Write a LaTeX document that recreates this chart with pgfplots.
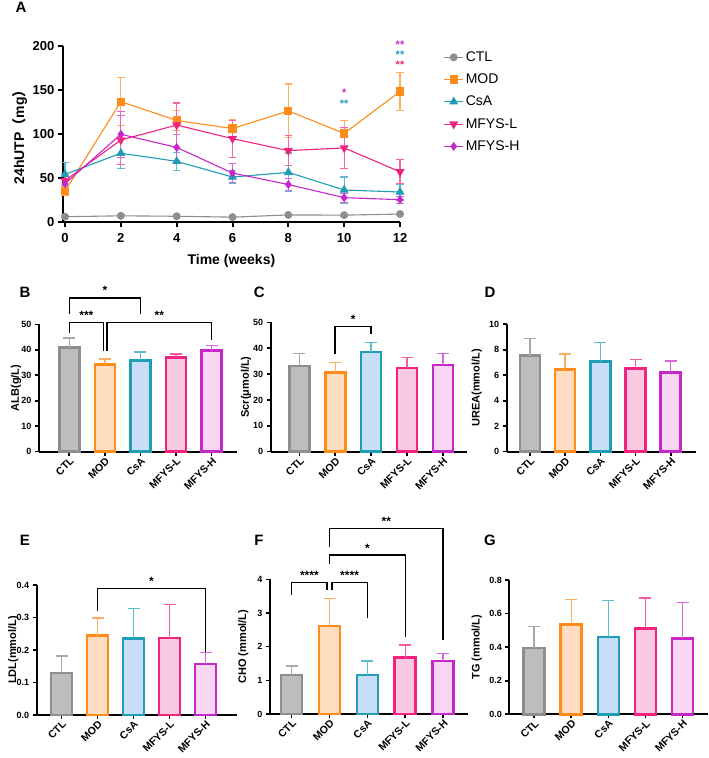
\documentclass[border=0pt]{standalone}
\usepackage{pgfplots}
\pgfplotsset{compat=1.18}
\usepackage{fontspec}
\setmainfont{Liberation Sans}
\newfontfamily\cjk{Noto Sans CJK SC}
\newcommand\fs[1]{\fontsize{#1}{#1}\selectfont}

% line colours (panel A) and bar colours (panels B-G)
\definecolor{ctl}{HTML}{8E8E8E}
\definecolor{mod}{HTML}{FF8C1A}
\definecolor{csa}{HTML}{1E9DB5}
\definecolor{mfl}{HTML}{F2237F}
\definecolor{mfh}{HTML}{C527C9}
\definecolor{ctlE}{HTML}{A8A8A8}
\definecolor{modE}{HTML}{F9AE62}
\definecolor{csaE}{HTML}{5CBDD0}
\definecolor{mflE}{HTML}{F45A9F}
\definecolor{mfhE}{HTML}{D766DA}
\definecolor{ctlF}{HTML}{BDBDBD}
\definecolor{modF}{HTML}{FEDDC0}
\definecolor{csaF}{HTML}{C8DDF7}
\definecolor{mflF}{HTML}{F9C8E1}
\definecolor{mfhF}{HTML}{FAD6F5}

\tikzset{
  brk/.style={black, line width=1.5pt},
  star/.style={anchor=base, yshift=3pt, font=\bfseries\fs{12}},
}

\pgfplotsset{
  linepanel/.style={
    anchor=south west, scale only axis, clip=false,
    axis lines*=left, axis line style={line width=2.4pt, black},
    tick align=outside, major tick length=5pt, tick style={line width=2pt, black},
    ticklabel style={font=\bfseries\fs{13}},
    xticklabel style={yshift=-3pt},
    /pgf/number format/assume math mode=true,
  },
  series/.style n args={4}{color=#1, line width=1.1pt, mark=#2, mark size=#3,
    mark options={solid, fill=#1, #4},
    error bars/.cd, y dir=both, y explicit,
    error bar style={line width=1.1pt, color=#1!70!white},
    error mark options={rotate=90, mark size=3.7pt, line width=1.1pt, color=#1!70!white}},
  barpanel/.style={
    anchor=south west, scale only axis, clip=false,
    axis lines*=left, axis line style={line width=1.9pt, black},
    ymin=0, xtick={0,1,2,3,4}, xticklabels={CTL,MOD,CsA,MFYS-L,MFYS-H},
    tick align=outside, major tick length=4pt, tick style={line width=1.6pt, black},
    xticklabel style={rotate=45, anchor=north east, font=\bfseries\fs{10.5}, inner sep=0.5pt},
    yticklabel style={font=\bfseries\fs{9}},
    /pgf/number format/assume math mode=true,
    ylabel style={font=\bfseries\fs{11}},
    ybar,
  },
  grp/.style n args={3}{fill=#1, draw=#2, line width=2.6pt, bar shift=0pt,
    error bars/.cd, y dir=plus, y explicit,
    error bar style={line width=1.4pt, color=#3},
    error mark options={rotate=90, mark size=6pt, line width=1.4pt, color=#3}},
}

\begin{document}
\begin{tikzpicture}
\path[use as bounding box] (0pt,0pt) rectangle (709pt,758pt);

% ---------------- A: 24 h urinary protein over time ----------------
\begin{axis}[linepanel,
  at={(62.8pt,536pt)}, width=337.2pt, height=176.3pt,
  xmin=-0.08, xmax=12, ymin=0, ymax=200,
  xtick={0,2,...,12}, ytick={0,50,...,200},
  xlabel={Time (weeks)},
  xlabel style={font=\bfseries\fs{14}, at={(axis description cs:0.5,0)}, yshift=-39pt, anchor=center},
  ylabel={24hUTP{\cjk （}mg{\cjk ）}},
  ylabel style={font=\bfseries\fs{14}, at={(axis description cs:-0.128,0.5)}, anchor=center},
  legend cell align=left,
  legend image code/.code={\draw[mark repeat=2,mark phase=2] plot coordinates {(0pt,0pt) (9.5pt,0pt) (19pt,0pt)};},
  legend style={at={(axis description cs:1.12,0.99)}, anchor=north west, draw=none, fill=none,
    font=\fs{14}, row sep=7pt},
]
\addplot[series={ctl}{*}{3.4pt}{}] coordinates {
  (0,6) +- (0,1) (2,7) +- (0,1) (4,6.5) +- (0,1) (6,5.5) +- (0,1)
  (8,8) +- (0,1) (10,7.8) +- (0,1) (12,9) +- (0,1)};
\addlegendentry{CTL}
\addplot[series={mod}{square*}{3.6pt}{}] coordinates {
  (0,35) +- (0,5) (2,136.5) +- (0,27.5) (4,115.2) +- (0,11) (6,106) +- (0,10.5)
  (8,126) +- (0,30.5) (10,100.5) +- (0,15) (12,148) +- (0,22)};
\addlegendentry{MOD}
\addplot[series={csa}{triangle*}{4.2pt}{}] coordinates {
  (0,54) +- (0,13) (2,78) +- (0,17) (4,68.8) +- (0,10) (6,51) +- (0,7.6)
  (8,56.3) +- (0,22) (10,36.3) +- (0,14.7) (12,34) +- (0,9)};
\addlegendentry{CsA}
\addplot[series={mfl}{triangle*}{4.2pt}{rotate=180}] coordinates {
  (0,47) +- (0,8) (2,93) +- (0,28) (4,110) +- (0,25) (6,94.5) +- (0,21)
  (8,81) +- (0,17) (10,84) +- (0,23) (12,57) +- (0,13.6)};
\addlegendentry{MFYS-L}
\addplot[series={mfh}{diamond*}{3.6pt}{}] coordinates {
  (0,43.5) +- (0,5) (2,99.5) +- (0,26) (4,84.6) +- (0,15) (6,55.5) +- (0,11)
  (8,42.5) +- (0,7) (10,27.6) +- (0,5) (12,25.3) +- (0,4)};
\addlegendentry{MFYS-H}
% significance marks vs MOD
\node[anchor=base, yshift=-6pt, font=\bfseries\fs{11}, text=mfh] at (axis cs:10,149.6) {*};
\node[anchor=base, yshift=-6pt, font=\bfseries\fs{11}, text=csa] at (axis cs:10,136.8) {**};
\node[anchor=base, yshift=-6pt, font=\bfseries\fs{11}, text=mfh] at (axis cs:12,203.6) {**};
\node[anchor=base, yshift=-6pt, font=\bfseries\fs{11}, text=csa] at (axis cs:12,192.3) {**};
\node[anchor=base, yshift=-6pt, font=\bfseries\fs{11}, text=mfl] at (axis cs:12,181.3) {**};
\end{axis}

% ---------------- B: ALB ----------------
\begin{axis}[barpanel, at={(39pt,306.3pt)}, width=197.6pt, height=127.4pt,
  xmin=-0.85, xmax=4.7, ymax=50, ytick={0,10,...,50}, bar width=20pt,
  ylabel={ALB(g/L)}, ylabel style={at={(axis description cs:-0.116,0.5)}, anchor=center}]
\addplot[grp={ctlF}{ctl}{ctlE}] coordinates {(0,40.8) +- (0,3.8)};
\addplot[grp={modF}{mod}{modE}] coordinates {(1,34.3) +- (0,2.1)};
\addplot[grp={csaF}{csa}{csaE}] coordinates {(2,35.9) +- (0,3.2)};
\addplot[grp={mflF}{mfl}{mflE}] coordinates {(3,37.0) +- (0,1.3)};
\addplot[grp={mfhF}{mfh}{mfhE}] coordinates {(4,39.6) +- (0,2.1)};
\draw[brk] (axis cs:0,53.9) -- (axis cs:0,60.4) -- (axis cs:2,60.4) -- (axis cs:2,53.9);
\node[star] at (axis cs:1,60.4) {*};
\draw[brk] (axis cs:0,46.6) -- (axis cs:0,50.8) -- (axis cs:0.96,50.8) -- (axis cs:0.96,39.5);
\node[star] at (axis cs:0.48,50.8) {***};
\draw[brk] (axis cs:1.06,39.5) -- (axis cs:1.06,50.8) -- (axis cs:4,50.8) -- (axis cs:4,43.8);
\node[star] at (axis cs:2.53,50.8) {**};
\end{axis}

% ---------------- C: Scr ----------------
\begin{axis}[barpanel, at={(270.7pt,306.3pt)}, width=196.5pt, height=129.4pt,
  xmin=-0.8, xmax=4.68, ymax=50, ytick={0,10,...,50}, bar width=20pt,
  ylabel={Scr(μmol/L)}, ylabel style={at={(axis description cs:-0.126,0.5)}, anchor=center}]
\addplot[grp={ctlF}{ctl}{ctlE}] coordinates {(0,33.1) +- (0,4.9)};
\addplot[grp={modF}{mod}{modE}] coordinates {(1,30.7) +- (0,3.8)};
\addplot[grp={csaF}{csa}{csaE}] coordinates {(2,38.6) +- (0,3.7)};
\addplot[grp={mflF}{mfl}{mflE}] coordinates {(3,32.3) +- (0,4.2)};
\addplot[grp={mfhF}{mfh}{mfhE}] coordinates {(4,33.5) +- (0,4.5)};
\draw[brk] (axis cs:1,37.6) -- (axis cs:1,48.3) -- (axis cs:2,48.3) -- (axis cs:2,45.4);
\node[star] at (axis cs:1.5,48.3) {*};
\end{axis}

% ---------------- D: UREA ----------------
\begin{axis}[barpanel, at={(506.7pt,306.3pt)}, width=189.4pt, height=127.4pt,
  xmin=-0.66, xmax=4.72, ymax=10, ytick={0,2,...,10}, bar width=20pt,
  ylabel={UREA(mmol/L)}, ylabel style={at={(axis description cs:-0.158,0.5)}, anchor=center}]
\addplot[grp={ctlF}{ctl}{ctlE}] coordinates {(0,7.54) +- (0,1.33)};
\addplot[grp={modF}{mod}{modE}] coordinates {(1,6.47) +- (0,1.2)};
\addplot[grp={csaF}{csa}{csaE}] coordinates {(2,7.09) +- (0,1.5)};
\addplot[grp={mflF}{mfl}{mflE}] coordinates {(3,6.52) +- (0,0.7)};
\addplot[grp={mfhF}{mfh}{mfhE}] coordinates {(4,6.23) +- (0,0.89)};
\end{axis}

% ---------------- E: LDL ----------------
\begin{axis}[barpanel, at={(36.7pt,43pt)}, width=199.8pt, height=130pt,
  xmin=-0.69, xmax=4.86, ymax=0.4, ytick={0,0.1,...,0.4}, bar width=21pt,
  yticklabel style={/pgf/number format/.cd, fixed, fixed zerofill, precision=1},
  ylabel={LDL(mmol/L)}, ylabel style={at={(axis description cs:-0.117,0.5)}, anchor=center}]
\addplot[grp={ctlF}{ctl}{ctlE}] coordinates {(0,0.129) +- (0,0.053)};
\addplot[grp={modF}{mod}{modE}] coordinates {(1,0.244) +- (0,0.055)};
\addplot[grp={csaF}{csa}{csaE}] coordinates {(2,0.236) +- (0,0.091)};
\addplot[grp={mflF}{mfl}{mflE}] coordinates {(3,0.237) +- (0,0.103)};
\addplot[grp={mfhF}{mfh}{mfhE}] coordinates {(4,0.157) +- (0,0.036)};
\draw[brk] (axis cs:1,0.321) -- (axis cs:1,0.389) -- (axis cs:4,0.389) -- (axis cs:4,0.195);
\node[star] at (axis cs:2.5,0.389) {*};
\end{axis}

% ---------------- F: CHO ----------------
\begin{axis}[barpanel, at={(270pt,44pt)}, width=198.2pt, height=134.7pt,
  xmin=-0.57, xmax=4.66, ymax=4, ytick={0,1,...,4}, bar width=21pt,
  ylabel={CHO (mmol/L)}, ylabel style={at={(axis description cs:-0.135,0.5)}, anchor=center}]
\addplot[grp={ctlF}{ctl}{ctlE}] coordinates {(0,1.16) +- (0,0.27)};
\addplot[grp={modF}{mod}{modE}] coordinates {(1,2.61) +- (0,0.82)};
\addplot[grp={csaF}{csa}{csaE}] coordinates {(2,1.16) +- (0,0.41)};
\addplot[grp={mflF}{mfl}{mflE}] coordinates {(3,1.67) +- (0,0.38)};
\addplot[grp={mfhF}{mfh}{mfhE}] coordinates {(4,1.57) +- (0,0.23)};
\draw[brk] (axis cs:0,3.53) -- (axis cs:0,3.91) -- (axis cs:0.94,3.91) -- (axis cs:0.94,3.68);
\node[star] at (axis cs:0.47,3.91) {****};
\draw[brk] (axis cs:1.07,3.68) -- (axis cs:1.07,3.91) -- (axis cs:2,3.91) -- (axis cs:2,2.86);
\node[star] at (axis cs:1.53,3.91) {****};
\draw[brk] (axis cs:1,4.45) -- (axis cs:1,4.72) -- (axis cs:3,4.72) -- (axis cs:3,2.3);
\node[star] at (axis cs:2,4.72) {*};
\draw[brk] (axis cs:1,4.97) -- (axis cs:1,5.51) -- (axis cs:4,5.51) -- (axis cs:4,2.2);
\node[star] at (axis cs:2.5,5.51) {**};
\end{axis}

% ---------------- G: TG ----------------
\begin{axis}[barpanel, at={(509.3pt,43.7pt)}, width=198.9pt, height=134.3pt,
  xmin=-0.67, xmax=4.69, ymax=0.8, ytick={0,0.2,...,0.8}, bar width=21pt,
  yticklabel style={/pgf/number format/.cd, fixed, fixed zerofill, precision=1},
  ylabel={TG (mmol/L)}, ylabel style={at={(axis description cs:-0.164,0.5)}, anchor=center}]
\addplot[grp={ctlF}{ctl}{ctlE}] coordinates {(0,0.395) +- (0,0.127)};
\addplot[grp={modF}{mod}{modE}] coordinates {(1,0.536) +- (0,0.149)};
\addplot[grp={csaF}{csa}{csaE}] coordinates {(2,0.46) +- (0,0.219)};
\addplot[grp={mflF}{mfl}{mflE}] coordinates {(3,0.512) +- (0,0.182)};
\addplot[grp={mfhF}{mfh}{mfhE}] coordinates {(4,0.452) +- (0,0.215)};
\end{axis}

% panel letters
\node[font=\bfseries\fs{15}] at (21pt,751pt) {A};
\node[font=\bfseries\fs{15}] at (25pt,465.2pt) {B};
\node[font=\bfseries\fs{15}] at (259.3pt,465.3pt) {C};
\node[font=\bfseries\fs{15}] at (490pt,465.3pt) {D};
\node[font=\bfseries\fs{15}] at (25pt,218pt) {E};
\node[font=\bfseries\fs{15}] at (259pt,218pt) {F};
\node[font=\bfseries\fs{15}] at (490pt,218pt) {G};
\end{tikzpicture}
\end{document}
